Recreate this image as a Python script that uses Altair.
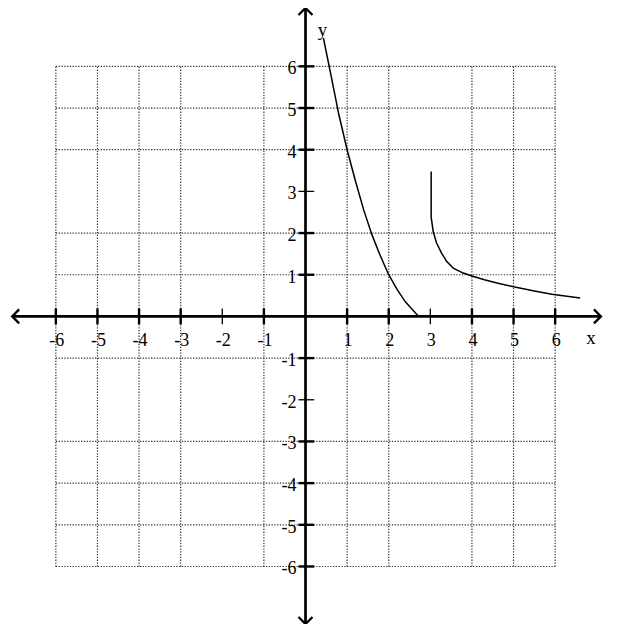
import altair as alt
import pandas as pd

# ---- data ----
tick_values = [-6, -5, -4, -3, -2, -1, 1, 2, 3, 4, 5, 6]
tick_labels = ["-6", "-5", "-4", "-3", "-2", "-1", "1", "2", "3", "4", "5", "6"]
grid_x = [-6, -5, -4, -3, -1, 1, 2, 4, 5, 6]
grid_y = [-6, -5, -4, -3, -1, 1, 2, 4, 5, 6]
thin_ticks = [-2, 3]

curve1_x = [0.43, 0.6, 0.8, 1.0, 1.2, 1.4, 1.6, 1.8, 2.0, 2.2, 2.4, 2.6, 2.72]
curve1_y = [6.68, 5.85, 4.85, 4.0, 3.25, 2.55, 1.95, 1.45, 1.0, 0.65, 0.35, 0.13, 0.0]

curve2_x = [3.02, 3.02, 3.07, 3.15, 3.27, 3.39, 3.55, 3.79, 4.0, 4.3, 4.6, 5.0, 5.5, 5.92, 6.6]
curve2_y = [3.48, 2.38, 2.03, 1.76, 1.52, 1.32, 1.16, 1.04, 0.97, 0.88, 0.8, 0.71, 0.61, 0.53, 0.44]

axis_x_end = [-7.05, 7.1]
axis_y_end = [-7.38, 7.4]

# ---- scales ----
W, H = 600, 616
xs = alt.Scale(domain=[-7.15, 7.27], nice=False, zero=False)
ys = alt.Scale(domain=[-7.38, 7.40], nice=False, zero=False)


def X(f):
    return alt.X(f, type="quantitative", scale=xs, axis=None, title=None)


def Y(f):
    return alt.Y(f, type="quantitative", scale=ys, axis=None, title=None)


FONT = "Liberation Serif"
GRID_STYLE = dict(color="#333333", strokeWidth=1.2, strokeDash=[1.3, 1.5])

# grid
gv = pd.DataFrame({"v": grid_x, "lo": -6, "hi": 6})
gh = pd.DataFrame({"v": grid_y, "lo": -6, "hi": 6})
grid_v = alt.Chart(gv).mark_rule(**GRID_STYLE).encode(x=X("v"), y=Y("lo"), y2="hi")
grid_h = alt.Chart(gh).mark_rule(**GRID_STYLE).encode(y=Y("v"), x=X("lo"), x2="hi")

# axes
axes_df = pd.DataFrame({
    "x1": [axis_x_end[0], 0], "x2": [axis_x_end[1], 0],
    "y1": [0, axis_y_end[0]], "y2": [0, axis_y_end[1]],
})
axes = alt.Chart(axes_df).mark_rule(color="black", strokeWidth=2.7).encode(
    x=X("x1"), x2="x2", y=Y("y1"), y2="y2"
)

# arrowheads
arrow_df = pd.DataFrame({
    "x": [0, 0, axis_x_end[1], axis_x_end[0]],
    "y": [axis_y_end[1], axis_y_end[0], 0, 0],
    "a": [0, 180, 90, 270],
})
arrows = alt.Chart(arrow_df).mark_point(
    shape="M-1,1L0,0L1,1", filled=False, color="black", strokeWidth=2.3,
    size=196, opacity=1
).encode(x=X("x"), y=Y("y"), angle=alt.Angle("a:Q", scale=None))

# tick marks
tw = [1.3 if t in thin_ticks else 2.4 for t in tick_values]
xt = pd.DataFrame({"t": tick_values, "lo": -0.19, "hi": 0.19, "w": tw})
yt = pd.DataFrame({"t": tick_values, "lo": -0.17, "hi": 0.21, "w": tw})
xticks = alt.Chart(xt).mark_rule(color="black").encode(
    x=X("t"), y=Y("lo"), y2="hi", strokeWidth=alt.StrokeWidth("w:Q", scale=None)
)
yticks = alt.Chart(yt).mark_rule(color="black").encode(
    y=Y("t"), x=X("lo"), x2="hi", strokeWidth=alt.StrokeWidth("w:Q", scale=None)
)

# tick labels
lab = pd.DataFrame({"t": tick_values, "label": tick_labels, "z": 0})
xlabels = alt.Chart(lab).mark_text(
    font=FONT, fontSize=18, align="center", baseline="middle", dx=1, dy=25, color="black"
).encode(x=X("t"), y=Y("z"), text="label:N")
ylabels = alt.Chart(lab).mark_text(
    font=FONT, fontSize=18, align="right", baseline="middle", dx=-9, dy=3, color="black"
).encode(y=Y("t"), x=X("z"), text="label:N")

# axis names
names_df = pd.DataFrame({"x": [axis_x_end[1]], "y": [0], "label": ["x"]})
names_df2 = pd.DataFrame({"x": [0], "y": [axis_y_end[1]], "label": ["y"]})
xname = alt.Chart(names_df).mark_text(
    font=FONT, fontSize=19, align="center", baseline="middle", dx=-10, dy=22, color="black"
).encode(x=X("x"), y=Y("y"), text="label:N")
yname = alt.Chart(names_df2).mark_text(
    font=FONT, fontSize=19, align="center", baseline="middle", dx=17, dy=22, color="black"
).encode(x=X("x"), y=Y("y"), text="label:N")

# curves
c1 = pd.DataFrame({"x": curve1_x, "y": curve1_y, "i": range(len(curve1_x)), "s": "a"})
c2 = pd.DataFrame({"x": curve2_x, "y": curve2_y, "i": range(len(curve2_x)), "s": "b"})
curves = alt.Chart(pd.concat([c1, c2])).mark_line(
    color="black", strokeWidth=1.5
).encode(x=X("x"), y=Y("y"), order="i:Q", detail="s:N")

chart = alt.layer(
    grid_v, grid_h, curves, axes, arrows, xticks, yticks, xlabels, ylabels, xname, yname
).properties(
    width=W, height=H, padding=0, autosize=alt.AutoSizeParams(type="none"),
    background="white"
).configure_view(stroke=None)

chart.save("out.html", embed_options={"renderer": "svg", "actions": False})
